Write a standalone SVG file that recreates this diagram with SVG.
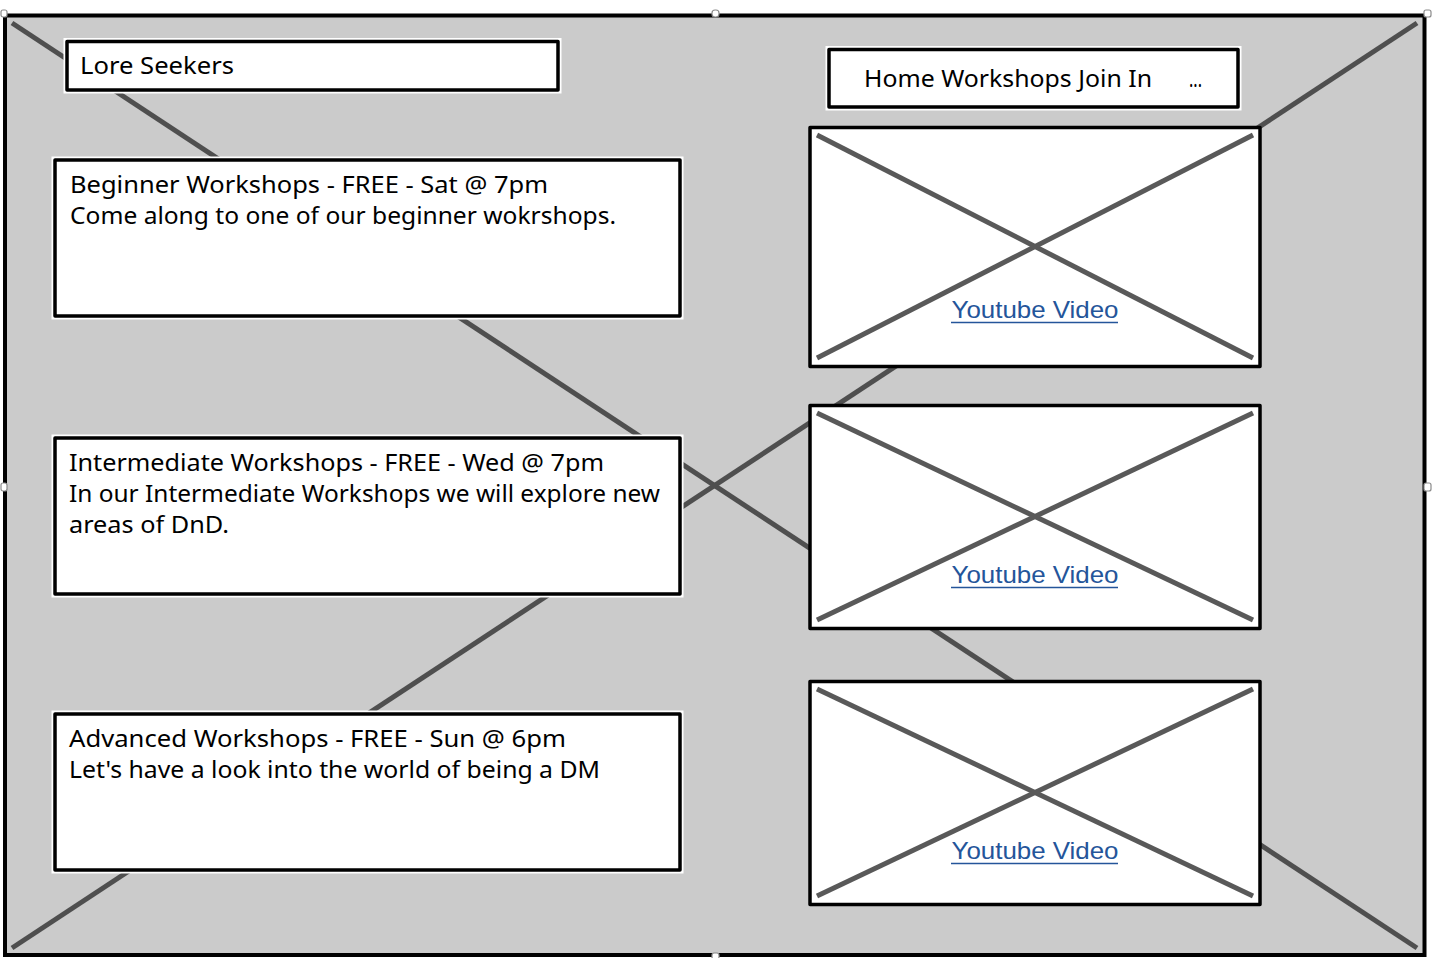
<svg xmlns="http://www.w3.org/2000/svg" width="1432" height="958" viewBox="0 0 1432 958">
<style>
.halo{fill:none;stroke:#ffffff;stroke-width:7}
.box{fill:#ffffff;stroke:#000000;stroke-width:3.5;stroke-linejoin:round}
.xl{stroke:#4f4f4f;stroke-width:5;stroke-linecap:butt;fill:none}
.xi{stroke:#595959;stroke-width:5;stroke-linecap:butt;fill:none}
.t{font-family:"Noto Sans","Open Sans","Liberation Sans",sans-serif;font-size:23px;fill:#000000}
.nav{font-family:"Noto Sans","Liberation Sans",sans-serif;font-size:24px;fill:#000000}
.yt{font-family:"Liberation Sans",Arial,sans-serif;font-size:24px;fill:#24559a;text-anchor:middle}
.ul{stroke:#24559a;stroke-width:1.6}
.hd{fill:#ffffff;stroke:#8a8a8a;stroke-width:1.2}
</style>
<rect x="0" y="0" width="1432" height="958" fill="#ffffff"/>
<g id="frame">
<rect x="5" y="15.5" width="1419.5" height="939.5" fill="#cbcbcb" stroke="#000000" stroke-width="4"/>
<line class="xl" x1="12" y1="23" x2="1417" y2="948"/>
<line class="xl" x1="12" y1="948" x2="1417" y2="23"/>
</g>
<g id="lore-seekers">
<rect class="halo" x="67" y="41.5" width="491" height="48.5"/>
<rect class="box" x="67" y="41.5" width="491" height="48.5"/>
<text class="t" x="80" y="74" textLength="154" lengthAdjust="spacingAndGlyphs">Lore Seekers</text>
</g>
<g id="beginner">
<rect class="halo" x="55" y="160" width="625" height="156"/>
<rect class="box" x="55" y="160" width="625" height="156"/>
<text class="t" x="70" y="193" textLength="478" lengthAdjust="spacingAndGlyphs">Beginner Workshops - FREE - Sat @ 7pm</text>
<text class="t" x="70" y="224" textLength="546" lengthAdjust="spacingAndGlyphs">Come along to one of our beginner wokrshops.</text>
</g>
<g id="intermediate">
<rect class="halo" x="55" y="438" width="625" height="156"/>
<rect class="box" x="55" y="438" width="625" height="156"/>
<text class="t" x="69" y="471" textLength="535" lengthAdjust="spacingAndGlyphs">Intermediate Workshops - FREE - Wed @ 7pm</text>
<text class="t" x="69" y="502" textLength="591" lengthAdjust="spacingAndGlyphs">In our Intermediate Workshops we will explore new</text>
<text class="t" x="69" y="533" textLength="160" lengthAdjust="spacingAndGlyphs">areas of DnD.</text>
</g>
<g id="advanced">
<rect class="halo" x="55" y="714" width="625" height="156"/>
<rect class="box" x="55" y="714" width="625" height="156"/>
<text class="t" x="69" y="747" textLength="497" lengthAdjust="spacingAndGlyphs">Advanced Workshops - FREE - Sun @ 6pm</text>
<text class="t" x="69" y="778" textLength="531" lengthAdjust="spacingAndGlyphs">Let's have a look into the world of being a DM</text>
</g>
<g id="nav">
<rect class="halo" x="829" y="49.5" width="409" height="57.5"/>
<rect class="box" x="829" y="49.5" width="409" height="57.5"/>
<text class="nav" x="864" y="87" textLength="288" lengthAdjust="spacingAndGlyphs">Home Workshops Join In</text>
<text class="nav" x="1189" y="87" font-size="14" textLength="13" lengthAdjust="spacingAndGlyphs">...</text>
</g>
<g id="video-1">
<rect class="box" x="810" y="127.5" width="450" height="239"/>
<line class="xi" x1="817" y1="135" x2="1253" y2="358"/>
<line class="xi" x1="817" y1="358" x2="1253" y2="135"/>
<text class="yt" x="1035" y="318" textLength="167" lengthAdjust="spacingAndGlyphs">Youtube Video</text>
<line class="ul" x1="951" y1="322.5" x2="1118" y2="322.5"/>
</g>
<g id="video-2">
<rect class="box" x="810" y="405.5" width="450" height="223"/>
<line class="xi" x1="817" y1="413" x2="1253" y2="620"/>
<line class="xi" x1="817" y1="620" x2="1253" y2="413"/>
<text class="yt" x="1035" y="583" textLength="167" lengthAdjust="spacingAndGlyphs">Youtube Video</text>
<line class="ul" x1="951" y1="587.5" x2="1118" y2="587.5"/>
</g>
<g id="video-3">
<rect class="box" x="810" y="681.5" width="450" height="223"/>
<line class="xi" x1="817" y1="689" x2="1253" y2="896"/>
<line class="xi" x1="817" y1="896" x2="1253" y2="689"/>
<text class="yt" x="1035" y="859" textLength="167" lengthAdjust="spacingAndGlyphs">Youtube Video</text>
<line class="ul" x1="951" y1="863.5" x2="1118" y2="863.5"/>
</g>
<g id="connectors"></g>
<g id="handles">
<rect class="hd" x="1" y="10" width="6" height="7" rx="2"/>
<rect class="hd" x="712" y="10" width="7" height="7" rx="3"/>
<rect class="hd" x="1424" y="10" width="7" height="7" rx="2"/>
<rect class="hd" x="1" y="483" width="6" height="8" rx="2"/>
<rect class="hd" x="1424" y="483" width="7" height="8" rx="2"/>
<rect class="hd" x="712" y="953" width="7" height="6" rx="2"/>
</g>
</svg>
